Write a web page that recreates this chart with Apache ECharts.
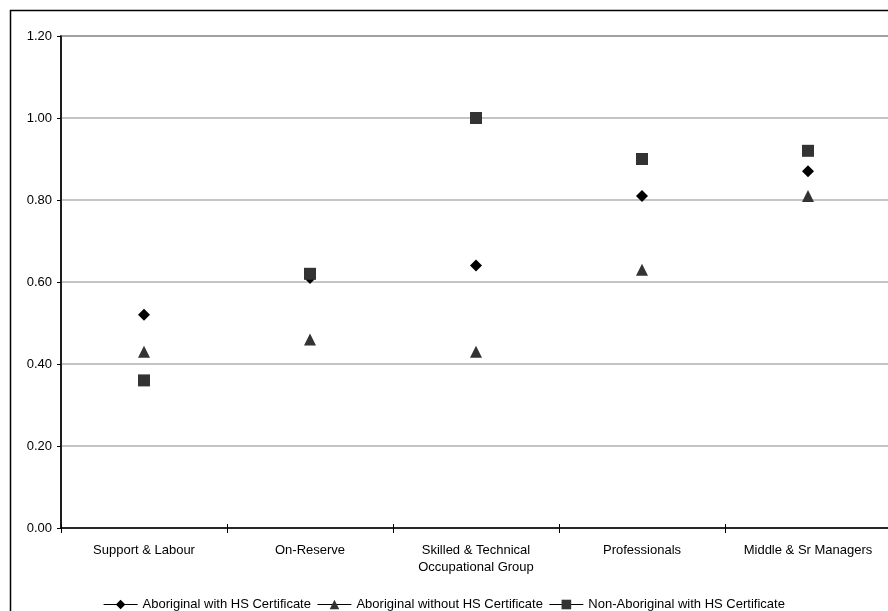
<!DOCTYPE html>
<html>
<head>
<meta charset="utf-8">
<script src="https://cdn.jsdelivr.net/npm/echarts@6/dist/echarts.min.js"></script>
<style>
  html, body { margin: 0; padding: 0; background: #fff; }
  #chart { width: 888px; height: 611px; }
</style>
</head>
<body>
<div id="chart"></div>
<script>
// Occupational groups on the category axis
const categories = [
  'Support & Labour',
  'On-Reserve',
  'Skilled & Technical\nOccupational Group',
  'Professionals',
  'Middle & Sr Managers'
];

// Ratios per group
const aboriginalWithHS = [0.52, 0.61, 0.64, 0.81, 0.87];
const aboriginalWithoutHS = [0.43, 0.46, 0.43, 0.63, 0.81];
const nonAboriginalWithHS = [0.36, 0.62, 1.00, 0.90, 0.92];

// Value axis ticks
const yTicks = [0, 0.2, 0.4, 0.6, 0.8, 1.0, 1.2];

const FONT = 'Liberation Sans';
const FONT_SIZE = 13;

const chart = echarts.init(document.getElementById('chart'), null, { renderer: 'canvas' });

function markerSeries(name, data, symbol, color, size) {
  return {
    name: name,
    type: 'line',
    data: data,
    symbol: symbol,
    symbolSize: size,
    showSymbol: true,
    lineStyle: { width: 0, opacity: 0 },
    itemStyle: { color: color, borderWidth: 0 },
    emphasis: { disabled: true },
    z: 5
  };
}

chart.setOption({
  animation: false,
  backgroundColor: '#fff',
  textStyle: { fontFamily: FONT, color: '#000' },
  graphic: [{
    type: 'rect',
    shape: { x: 10.5, y: 10.5, width: 900, height: 700 },
    style: { fill: 'none', stroke: '#000', lineWidth: 1.5 },
    silent: true,
    z: 0
  }],
  grid: {
    left: 61,
    top: 36,
    width: 830,
    height: 492,
    outerBoundsMode: 'none',
    containLabel: false,
    show: true,
    borderColor: '#444',
    borderWidth: 1.5,
    backgroundColor: 'transparent'
  },
  legend: {
    top: 593,
    left: 'center',
    itemWidth: 34,
    itemHeight: 12,
    itemGap: 6,
    textStyle: { fontFamily: FONT, fontSize: FONT_SIZE, color: '#000' },
    lineStyle: { color: '#000', width: 1, opacity: 1 },
    data: [
      'Aboriginal with HS Certificate',
      'Aboriginal without HS Certificate',
      'Non-Aboriginal with HS Certificate'
    ]
  },
  xAxis: [{
    type: 'category',
    data: categories,
    boundaryGap: true,
    axisLine: { lineStyle: { color: '#000', width: 1.5 } },
    axisTick: { show: true, length: 5, lineStyle: { color: '#000' } },
    axisLabel: {
      fontFamily: FONT,
      fontSize: FONT_SIZE,
      color: '#000',
      margin: 14,
      lineHeight: 17,
      interval: 0
    },
    splitLine: { show: false }
  }, {
    type: 'category',
    data: categories,
    position: 'bottom',
    boundaryGap: true,
    axisLine: { show: false },
    axisTick: { show: true, inside: true, length: 4, lineStyle: { color: '#000' } },
    axisLabel: { show: false },
    splitLine: { show: false }
  }],
  yAxis: {
    type: 'value',
    min: yTicks[0],
    max: yTicks[yTicks.length - 1],
    interval: 0.2,
    axisLine: { show: true, lineStyle: { color: '#000', width: 1.5 } },
    axisTick: { show: true, length: 4, lineStyle: { color: '#000' } },
    axisLabel: {
      fontFamily: FONT,
      fontSize: FONT_SIZE,
      color: '#000',
      margin: 9,
      formatter: v => v.toFixed(2)
    },
    splitLine: { show: true, lineStyle: { color: '#b0b0b0', width: 1.5 } }
  },
  series: [
    markerSeries('Aboriginal with HS Certificate', aboriginalWithHS, 'diamond', '#000', 12),
    markerSeries('Aboriginal without HS Certificate', aboriginalWithoutHS, 'triangle', '#333', 12),
    markerSeries('Non-Aboriginal with HS Certificate', nonAboriginalWithHS, 'rect', '#333', 12)
  ]
});
</script>
</body>
</html>
